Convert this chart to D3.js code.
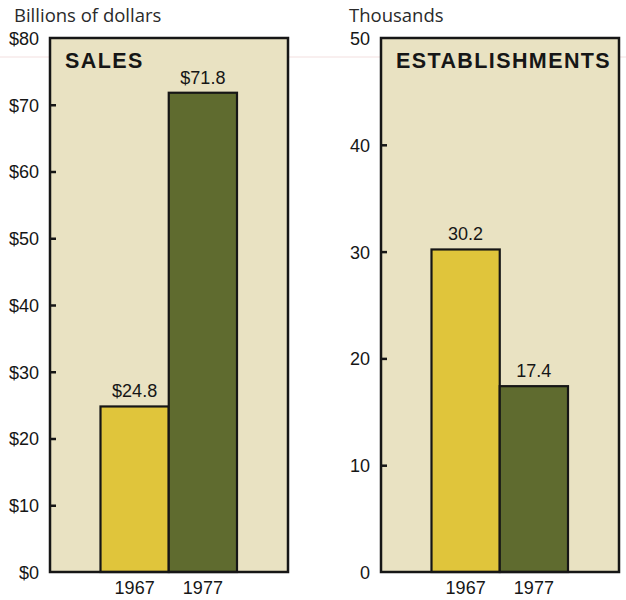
<!DOCTYPE html>
<html>
<head>
<meta charset="utf-8">
<script src="https://cdn.jsdelivr.net/npm/d3@7/dist/d3.min.js"></script>
<style>
  html, body { margin: 0; padding: 0; background: #ffffff; }
  svg { display: block; }
</style>
</head>
<body>
<svg id="chart" width="626" height="600"></svg>
<script>
// ---- data ----
const years = ["1967", "1977"];
const salesValues = [24.8, 71.8];            // billions of dollars
const salesLabels = ["$24.8", "$71.8"];
const salesTicks = [0, 10, 20, 30, 40, 50, 60, 70, 80];
const salesTickLabels = ["$0", "$10", "$20", "$30", "$40", "$50", "$60", "$70", "$80"];
const estValues = [30.2, 17.4];              // thousands
const estLabels = ["30.2", "17.4"];
const estTicks = [0, 10, 20, 30, 40, 50];
const estTickLabels = ["0", "10", "20", "30", "40", "50"];

const colors = { panel: "#e9e2c2", bar1967: "#e0c53b", bar1977: "#5f6b2f", ink: "#161616" };
const barColors = [colors.bar1967, colors.bar1977];
const numFont = "'Liberation Sans', Arial, sans-serif";
const unitFont = "'Open Sans', 'DejaVu Sans', sans-serif";

const svg = d3.select("#chart");

// faint scan line artifact across the page
svg.append("line").attr("x1", 0).attr("x2", 626).attr("y1", 57).attr("y2", 57)
  .attr("stroke", "#f2dfdf").attr("stroke-width", 1);

function panel(opts) {
  const { left, right, top, bottom, max, values, labels, ticks, tickLabels, title, unit, unitX } = opts;
  const g = svg.append("g");
  const y = d3.scaleLinear().domain([0, max]).range([bottom, top]);
  const x = d3.scaleBand().domain(years).range([left + 50.5, right - 51]).paddingInner(0).paddingOuter(0);

  // panel background
  g.append("rect").attr("x", left).attr("y", top)
    .attr("width", right - left).attr("height", bottom - top)
    .attr("fill", colors.panel);

  // bars
  g.selectAll("rect.bar").data(values).join("rect")
    .attr("class", "bar")
    .attr("x", (d, i) => x(years[i]))
    .attr("y", d => y(d))
    .attr("width", x.bandwidth())
    .attr("height", d => y(0) - y(d))
    .attr("fill", (d, i) => barColors[i])
    .attr("stroke", colors.ink).attr("stroke-width", 2.2);

  // value labels
  g.selectAll("text.val").data(values).join("text")
    .attr("class", "val")
    .attr("x", (d, i) => x(years[i]) + x.bandwidth() / 2)
    .attr("y", d => y(d) - 9)
    .attr("text-anchor", "middle")
    .attr("font-family", numFont).attr("font-size", 18)
    .attr("fill", colors.ink)
    .text((d, i) => labels[i]);

  // frame
  g.append("rect").attr("x", left).attr("y", top)
    .attr("width", right - left).attr("height", bottom - top)
    .attr("fill", "none").attr("stroke", colors.ink).attr("stroke-width", 2.5);

  // y axis: inward ticks, labels outside
  const axis = d3.axisLeft(y).tickValues(ticks).tickSize(-6).tickPadding(16)
    .tickFormat((d, i) => tickLabels[i]);
  const ag = g.append("g").attr("transform", `translate(${left},0)`).call(axis);
  ag.select(".domain").remove();
  ag.selectAll(".tick line").attr("stroke", colors.ink).attr("stroke-width", 2.5)
    .attr("display", d => (d === 0 || d === max) ? "none" : null);
  ag.selectAll(".tick text").attr("font-family", numFont).attr("font-size", 18)
    .attr("fill", colors.ink).attr("x", -11).attr("dy", "0.36em");

  // x axis labels (years)
  const xa = d3.axisBottom(x).tickSize(0).tickPadding(9);
  const xg = g.append("g").attr("transform", `translate(0,${bottom})`).call(xa);
  xg.select(".domain").remove();
  xg.selectAll(".tick text").attr("font-family", numFont).attr("font-size", 18)
    .attr("fill", colors.ink).attr("dy", "0.71em");

  // panel title
  g.append("text").attr("x", left + 15).attr("y", top + 30)
    .attr("font-family", numFont).attr("font-weight", "bold").attr("font-size", 21.5)
    .attr("letter-spacing", 1.4)
    .attr("fill", colors.ink).text(title);

  // unit label
  g.append("text").attr("x", unitX).attr("y", 22)
    .attr("font-family", unitFont).attr("font-size", 18.5)
    .attr("fill", "#2a2a2a").text(unit);
}

panel({ left: 50, right: 288, top: 38, bottom: 572, max: 80,
  values: salesValues, labels: salesLabels, ticks: salesTicks, tickLabels: salesTickLabels,
  title: "SALES", unit: "Billions of dollars", unitX: 14 });

panel({ left: 381, right: 619, top: 38, bottom: 572, max: 50,
  values: estValues, labels: estLabels, ticks: estTicks, tickLabels: estTickLabels,
  title: "ESTABLISHMENTS", unit: "Thousands", unitX: 349 });
</script>
</body>
</html>
